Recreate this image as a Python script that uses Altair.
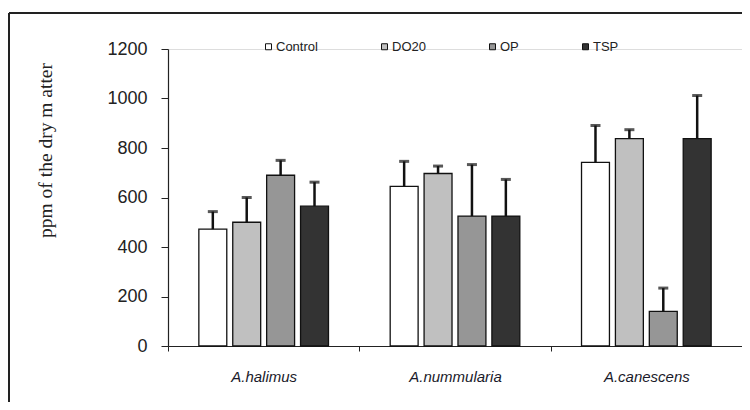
import altair as alt
import pandas as pd

species = ["A.halimus", "A.nummularia", "A.canescens"]
treatments = ["Control", "DO20", "OP", "TSP"]
colors = ["#ffffff", "#c0c0c0", "#969696", "#333333"]

means_halimus = [472, 500, 690, 565]
means_nummularia = [645, 697, 525, 525]
means_canescens = [742, 838, 140, 838]

sd_halimus = [71, 100, 60, 97]
sd_nummularia = [101, 30, 208, 148]
sd_canescens = [149, 36, 94, 174]

y_ticks = [0, 200, 400, 600, 800, 1000, 1200]

rows = []
for sp, ms, sds in zip(species,
                       [means_halimus, means_nummularia, means_canescens],
                       [sd_halimus, sd_nummularia, sd_canescens]):
    for t, m, s in zip(treatments, ms, sds):
        rows.append({"species": sp, "treatment": t, "mean": m, "top": m + s})
df = pd.DataFrame(rows)

x_enc = alt.X("species:N", sort=species, title=None,
              scale=alt.Scale(paddingInner=0, paddingOuter=0),
              axis=alt.Axis(labelAngle=0, tickBand="extent", ticks=True, tickSize=5,
                            tickColor="#222", domainColor="#222", domainWidth=1.2,
                            labelFont="Liberation Sans", labelFontStyle="italic",
                            labelFontSize=15, labelColor="#1a1a2a", labelPadding=18,
                            grid=False))
xoff_enc = alt.XOffset("treatment:N", sort=treatments,
                       scale=alt.Scale(paddingInner=0.176, paddingOuter=0.91))
y_scale = alt.Scale(domain=[0, 1200])

bars = alt.Chart(df).mark_bar(stroke="#111", strokeWidth=1.3).encode(
    x=x_enc,
    xOffset=xoff_enc,
    y=alt.Y("mean:Q", scale=y_scale, title="ppm of the dry m atter",
            axis=alt.Axis(values=y_ticks, format="d", grid=False, tickSize=7,
                          tickColor="#222", domainColor="#222", domainWidth=1.2,
                          labelFont="Liberation Sans", labelFontSize=18,
                          labelColor="#222", labelPadding=14,
                          titleFont="Liberation Serif", titleFontSize=19.5,
                          titleFontWeight="normal", titleColor="#222",
                          titleX=-123, titleY=101, titleAngle=-90,
                          titleAlign="center", titleBaseline="middle")),
    fill=alt.Fill("treatment:N", sort=treatments,
                  scale=alt.Scale(domain=treatments, range=colors),
                  legend=alt.Legend(title=None, orient="none", legendX=94, legendY=-9,
                                    direction="horizontal", columns=4, columnPadding=60,
                                    symbolType="square", symbolSize=36,
                                    symbolStrokeColor="#111", symbolStrokeWidth=1,
                                    labelFont="Liberation Sans", labelFontSize=13,
                                    labelColor="#222", labelOffset=1)),
)

err_line = alt.Chart(df).mark_rule(color="#111", strokeWidth=2.5).encode(
    x=alt.X("species:N", sort=species),
    xOffset=xoff_enc,
    y=alt.Y("mean:Q", scale=y_scale),
    y2="top:Q",
)

err_cap = alt.Chart(df).mark_tick(color="#111", thickness=3, size=10).encode(
    x=alt.X("species:N", sort=species),
    xOffset=xoff_enc,
    y=alt.Y("top:Q", scale=y_scale),
)

frame_df = pd.DataFrame({"k": [1]})
frame_top = alt.Chart(frame_df).mark_rule(color="#222", strokeWidth=2).encode(
    x=alt.value(-159), x2=alt.value(640), y=alt.value(-36))
frame_left = alt.Chart(frame_df).mark_rule(color="#222", strokeWidth=2).encode(
    x=alt.value(-159), y=alt.value(-36), y2=alt.value(420))

chart = alt.layer(bars, err_line, err_cap, frame_top, frame_left).properties(
    width=574, height=297,
    autosize=alt.AutoSizeParams(type="none"),
    padding={"left": 160, "top": 41, "right": 0, "bottom": 56},
).configure_view(stroke=None).configure(background="white")

chart.save("out.html", embed_options={"renderer": "svg", "actions": False})
